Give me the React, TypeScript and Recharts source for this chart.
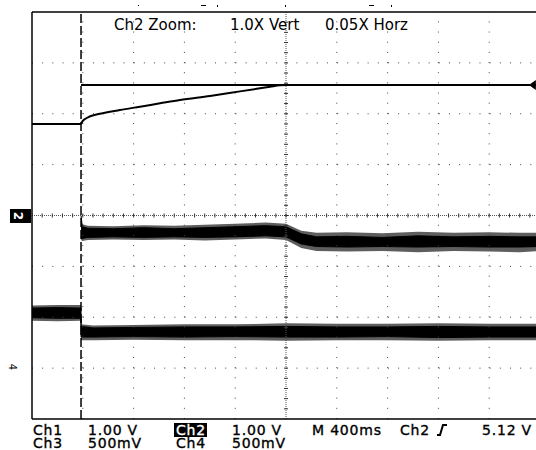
import React from 'react';
import {
  ComposedChart,
  Line,
  Area,
  XAxis,
  YAxis,
  ReferenceLine,
  ReferenceDot,
  Scatter,
} from 'recharts';

// ---- axis layout (in screen divisions) ----
const X_DOMAIN: [number, number] = [0, 10];
const Y_DOMAIN: [number, number] = [0, 8];
const GRID_X = [1, 2, 3, 4, 6, 7, 8, 9];
const GRID_Y = [1, 2, 3, 5, 6, 7];
const CENTER_X = 5;
const CENTER_Y = 4;
const MINOR_X = [
  0, 0.2, 0.4, 0.6, 0.8, 1, 1.2, 1.4, 1.6, 1.8, 2, 2.2, 2.4, 2.6, 2.8, 3, 3.2, 3.4, 3.6, 3.8,
  4, 4.2, 4.4, 4.6, 4.8, 5, 5.2, 5.4, 5.6, 5.8, 6, 6.2, 6.4, 6.6, 6.8, 7, 7.2, 7.4, 7.6, 7.8,
  8, 8.2, 8.4, 8.6, 8.8, 9, 9.2, 9.4, 9.6, 9.8, 10,
];
const MINOR_Y = [
  0, 0.2, 0.4, 0.6, 0.8, 1, 1.2, 1.4, 1.6, 1.8, 2, 2.2, 2.4, 2.6, 2.8, 3, 3.2, 3.4, 3.6, 3.8,
  4, 4.2, 4.4, 4.6, 4.8, 5, 5.2, 5.4, 5.6, 5.8, 6, 6.2, 6.4, 6.6, 6.8, 7, 7.2, 7.4, 7.6, 7.8, 8,
];
const TRIGGER_X = 0.965;

// ---- Ch1 (step, the vertical edge hidden behind the trigger line) ----
const ch1X = [0, 0.965, 0.965, 0.965, 10];
const ch1Y = [5.8, 5.8, null, 6.565, 6.565];

// ---- Ch2 zoom trace (slow rise) ----
const zoomX = [0.965, 1.0, 1.077, 1.339, 1.732, 2.126, 2.52, 2.913, 3.504, 4.094, 4.685, 4.882, 5.0];
const zoomY = [5.798, 5.86, 5.916, 6.0, 6.074, 6.139, 6.205, 6.27, 6.35, 6.44, 6.53, 6.56, 6.565];

// ---- Ch2 noisy band: core (low / high) and spike envelope ----
const ch2X = [0.965, 0.99, 1.1, 1.6, 2.2, 2.8, 3.4, 4.0, 4.6, 5.0, 5.3, 5.6, 6.2, 6.9, 7.6, 8.3, 9.0, 9.6, 10];
const ch2Lo = [3.57, 3.55, 3.57, 3.58, 3.57, 3.58, 3.57, 3.58, 3.6, 3.58, 3.44, 3.39, 3.38, 3.39, 3.38, 3.39, 3.38, 3.38, 3.39];
const ch2Hi = [4.0, 3.78, 3.75, 3.74, 3.76, 3.74, 3.76, 3.78, 3.8, 3.78, 3.64, 3.58, 3.59, 3.57, 3.6, 3.58, 3.59, 3.58, 3.58];
const ch2SpkLo = [3.52, 3.5, 3.52, 3.53, 3.52, 3.53, 3.51, 3.53, 3.55, 3.52, 3.36, 3.3, 3.29, 3.3, 3.28, 3.3, 3.29, 3.28, 3.3];
const ch2SpkHi = [4.0, 3.83, 3.8, 3.79, 3.81, 3.8, 3.82, 3.84, 3.86, 3.84, 3.7, 3.66, 3.67, 3.65, 3.68, 3.66, 3.67, 3.66, 3.66];

// ---- Ch3/Ch4 noisy band: core and spike envelope ----
const ch3X = [0, 0.5, 0.965, 0.965, 1.2, 2, 3, 4, 5, 6, 7, 8, 9, 10];
const ch3Lo = [1.99, 1.98, 1.98, 1.61, 1.61, 1.62, 1.61, 1.62, 1.61, 1.61, 1.62, 1.6, 1.61, 1.61];
const ch3Hi = [2.18, 2.19, 2.18, 1.82, 1.79, 1.8, 1.81, 1.81, 1.82, 1.81, 1.81, 1.82, 1.81, 1.81];
const ch3SpkLo = [1.93, 1.92, 1.93, 1.55, 1.55, 1.56, 1.55, 1.55, 1.54, 1.55, 1.55, 1.54, 1.55, 1.55];
const ch3SpkHi = [2.23, 2.24, 2.24, 1.86, 1.84, 1.85, 1.86, 1.86, 1.88, 1.87, 1.87, 1.88, 1.87, 1.87];

const TRIG_LEVEL = 6.565;

const ch1Data = ch1X.map((x, i) => ({ x, y: ch1Y[i] }));
const zoomData = zoomX.map((x, i) => ({ x, y: zoomY[i] }));
const ch2Data = ch2X.map((x, i) => ({ x, r: [ch2Lo[i], ch2Hi[i]], s: [ch2SpkLo[i], ch2SpkHi[i]] }));
const ch3Data = ch3X.map((x, i) => ({ x, r: [ch3Lo[i], ch3Hi[i]], s: [ch3SpkLo[i], ch3SpkHi[i]] }));
const hTicks = MINOR_X.map((x) => ({ x, y: CENTER_Y }));
const vTicks = MINOR_Y.map((y) => ({ x: CENTER_X, y }));

const txt: React.CSSProperties = {
  position: 'absolute',
  fontFamily: '"DejaVu Sans", sans-serif',
  color: '#000',
  whiteSpace: 'pre',
};
const bot: React.CSSProperties = {
  ...txt,
  fontSize: 14,
  lineHeight: '12px',
  letterSpacing: '0.8px',
  WebkitTextStroke: '0.35px #000',
};

export default function App() {
  return (
    <div
      style={{
        position: 'absolute',
        left: 0,
        top: 0,
        width: 536,
        height: 450,
        overflow: 'hidden',
        background: '#fff',
      }}
    >
      <ComposedChart
        width={545}
        height={450}
        margin={{ top: 12, right: 5, bottom: 31, left: 32 }}
      >
        <XAxis
          type="number"
          dataKey="x"
          domain={X_DOMAIN}
          allowDataOverflow
          ticks={MINOR_X}
          interval={0}
          tick={false}
          tickSize={3}
          mirror
          orientation="bottom"
          axisLine={{ stroke: '#000', strokeWidth: 1.5 }}
          tickLine={{ stroke: '#000' }}
        />
        <XAxis
          xAxisId="top"
          type="number"
          domain={X_DOMAIN}
          allowDataOverflow
          ticks={MINOR_X}
          interval={0}
          tick={false}
          tickSize={3}
          mirror
          orientation="top"
          axisLine={{ stroke: '#000', strokeWidth: 1.5 }}
          tickLine={{ stroke: '#000' }}
        />
        <YAxis
          type="number"
          dataKey="y"
          domain={Y_DOMAIN}
          allowDataOverflow
          ticks={MINOR_Y}
          interval={0}
          tick={false}
          tickSize={3}
          mirror
          axisLine={{ stroke: '#000', strokeWidth: 1.5 }}
          tickLine={{ stroke: '#000' }}
        />
        {GRID_X.map((v) => (
          <ReferenceLine key={'gx' + v} x={v} stroke="#444" strokeDasharray="1 9.17" />
        ))}
        {GRID_Y.map((v) => (
          <ReferenceLine key={'gy' + v} y={v} stroke="#444" strokeDasharray="1 9.17" />
        ))}
        <ReferenceLine x={CENTER_X} stroke="#555" strokeDasharray="1 1" />
        <ReferenceLine y={CENTER_Y} stroke="#555" strokeDasharray="1 1" />
        <Scatter
          data={hTicks}
          isAnimationActive={false}
          shape={(p: any) => (
            <line x1={p.cx} x2={p.cx} y1={p.cy - 2} y2={p.cy + 2} stroke="#333" strokeWidth={1} />
          )}
        />
        <Scatter
          data={vTicks}
          isAnimationActive={false}
          shape={(p: any) => (
            <line x1={p.cx - 2} x2={p.cx + 2} y1={p.cy} y2={p.cy} stroke="#333" strokeWidth={1} />
          )}
        />
        <ReferenceLine x={TRIGGER_X} stroke="#000" strokeWidth={1.5} strokeDasharray="9 3" />
        <Area
          data={ch3Data}
          dataKey="s"
          type="linear"
          stroke="none"
          fill="#5e5e5e"
          fillOpacity={1}
          isAnimationActive={false}
          dot={false}
          activeDot={false}
        />
        <Area
          data={ch3Data}
          dataKey="r"
          type="linear"
          stroke="#000"
          strokeWidth={1}
          fill="#000"
          fillOpacity={1}
          isAnimationActive={false}
          dot={false}
          activeDot={false}
        />
        <Area
          data={ch2Data}
          dataKey="s"
          type="linear"
          stroke="none"
          fill="#5e5e5e"
          fillOpacity={1}
          isAnimationActive={false}
          dot={false}
          activeDot={false}
        />
        <Area
          data={ch2Data}
          dataKey="r"
          type="linear"
          stroke="#000"
          strokeWidth={1}
          fill="#000"
          fillOpacity={1}
          isAnimationActive={false}
          dot={false}
          activeDot={false}
        />
        <Line
          data={zoomData}
          dataKey="y"
          type="monotone"
          stroke="#000"
          strokeWidth={2}
          dot={false}
          activeDot={false}
          isAnimationActive={false}
        />
        <Line
          data={ch1Data}
          dataKey="y"
          type="linear"
          stroke="#000"
          strokeWidth={2}
          dot={false}
          activeDot={false}
          connectNulls={false}
          isAnimationActive={false}
        />
        <ReferenceDot
          x={9.86}
          y={TRIG_LEVEL}
          r={5}
          shape={(p: any) => (
            <path
              d={`M${p.cx - 4},${p.cy} L${p.cx + 3},${p.cy - 5} L${p.cx + 3},${p.cy + 5} Z`}
              fill="#000"
            />
          )}
        />
      </ComposedChart>

      {/* header */}
      <div style={{ ...txt, left: 114, top: 18, fontSize: 15, lineHeight: '15px' }}>Ch2 Zoom:</div>
      <div style={{ ...txt, left: 230, top: 18, fontSize: 15, lineHeight: '15px' }}>1.0X Vert</div>
      <div style={{ ...txt, left: 325, top: 18, fontSize: 15, lineHeight: '15px' }}>0.05X Horz</div>

      {/* top trigger-position marks */}
      <div style={{ position: 'absolute', left: 201, top: 5, width: 5, height: 1, background: '#000' }} />
      <div style={{ position: 'absolute', left: 217, top: 5, width: 1, height: 2, background: '#000' }} />
      <div style={{ position: 'absolute', left: 138, top: 5, width: 1, height: 1, background: '#000' }} />
      <div style={{ position: 'absolute', left: 285, top: 5, width: 1, height: 2, background: '#000' }} />
      <div style={{ position: 'absolute', left: 369, top: 5, width: 5, height: 1, background: '#000' }} />
      <div style={{ position: 'absolute', left: 391, top: 5, width: 1, height: 2, background: '#000' }} />

      {/* left channel markers */}
      <div
        style={{
          position: 'absolute',
          left: 10,
          top: 209,
          width: 21,
          height: 14,
          background: '#000',
        }}
      >
        <div
          style={{
            ...txt,
            left: 4,
            top: 0,
            fontSize: 12,
            lineHeight: '14px',
            color: '#fff',
            fontWeight: 'bold',
            transform: 'rotate(90deg)',
          }}
        >
          2
        </div>
      </div>
      <div
        style={{
          ...txt,
          left: 9,
          top: 361,
          fontSize: 10,
          lineHeight: '12px',
          transform: 'rotate(90deg)',
        }}
      >
        4
      </div>

      {/* bottom readout */}
      <div style={{ ...bot, left: 33, top: 424 }}>Ch1</div>
      <div style={{ ...bot, left: 88, top: 424 }}>1.00 V</div>
      <div style={{ ...bot, left: 33, top: 437 }}>Ch3</div>
      <div style={{ ...bot, left: 88, top: 437 }}>500mV</div>
      <div
        style={{
          ...bot,
          left: 174,
          top: 423,
          background: '#000',
          color: '#fff',
          WebkitTextStroke: '0.35px #fff',
          padding: '1px 1px 1px 2px',
        }}
      >
        Ch2
      </div>
      <div style={{ ...bot, left: 232, top: 424 }}>1.00 V</div>
      <div style={{ ...bot, left: 176, top: 437 }}>Ch4</div>
      <div style={{ ...bot, left: 232, top: 437 }}>500mV</div>
      <div style={{ ...bot, left: 312, top: 424 }}>M 400ms</div>
      <div style={{ ...bot, left: 400, top: 424 }}>Ch2</div>
      <svg style={{ position: 'absolute', left: 436, top: 424 }} width={12} height={12}>
        <path d="M1 11 H4 L7 1 H11" stroke="#000" strokeWidth={2} fill="none" />
      </svg>
      <div style={{ ...bot, left: 482, top: 424 }}>5.12 V</div>
    </div>
  );
}
